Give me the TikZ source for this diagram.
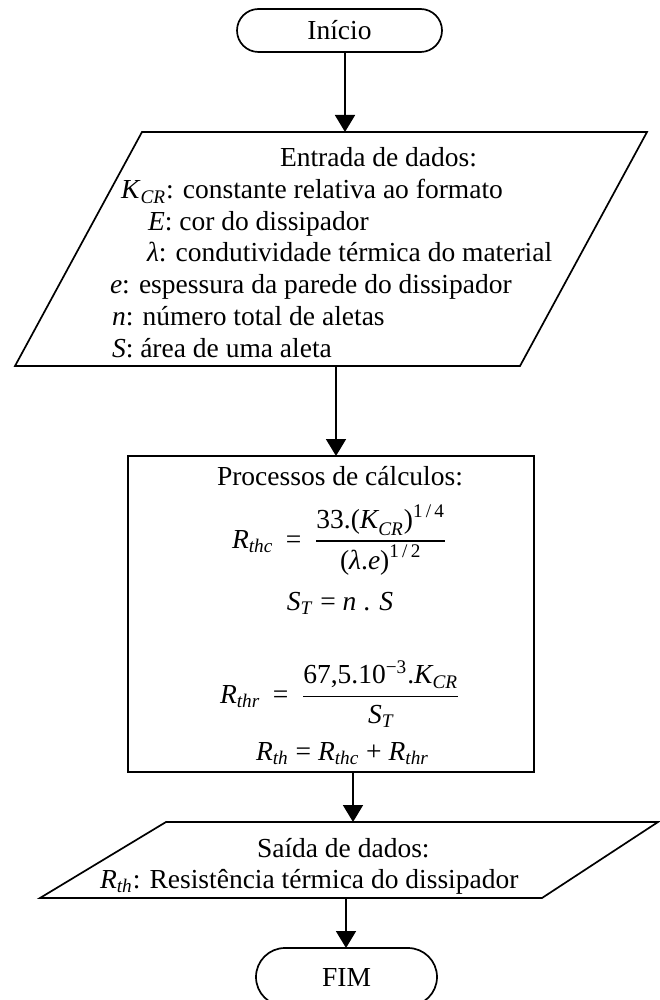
\documentclass[tikz,border=0pt]{standalone}
\usepackage{amsmath}
\usepackage{fontspec}
\setmainfont{Liberation Serif}
\usetikzlibrary{arrows.meta}
\begin{document}
\begin{tikzpicture}[x=0.5pt,y=-0.5pt, line width=0.85pt,
  txt/.style={inner sep=0pt, outer sep=0pt, font=\fontsize{13.75pt}{15.85pt}\selectfont},
  arr/.style={-{Triangle[length=8.5pt,width=10pt]}},
  ghost/.style={draw=none, inner sep=0pt, outer sep=0pt},
  term/.style={draw, txt, inner sep=0pt, outer sep=0pt}]
\useasboundingbox (0,0) rectangle (659,1000);

% terminals
\node[term, rounded corners=10.75pt, minimum width=102.5pt, minimum height=21.5pt] (ini) at (339.5,30.5) {Início};
\node[term, rounded corners=14.5pt, minimum width=90.5pt, minimum height=29pt] (fim) at (346.5,977) {FIM};

% input parallelogram
\draw (15,366) -- (142,132) -- (647,132) -- (520,366) -- cycle;
\node[ghost, minimum width=316pt, minimum height=117pt] (par1) at (331,249) {};
\node[txt, anchor=base west] (t1) at (280,167) {Entrada de dados:};
\node[txt, anchor=base west] (t2) at (121,198.7) {\textit{K}\textsubscript{\textit{CR}}: constante relativa ao formato};
\node[txt, anchor=base west] (t3) at (148,230.4) {\textit{E}: cor do dissipador};
\node[txt, anchor=base west] (t4) at (147,262) {\textit{λ}: condutividade térmica do material};
\node[txt, anchor=base west] (t5) at (110,293.8) {\textit{e}: espessura da parede do dissipador};
\node[txt, anchor=base west] (t6) at (112,325.5) {\textit{n}: número total de aletas};
\node[txt, anchor=base west] (t7) at (112,357.2) {\textit{S}: área de uma aleta};

% process box
\node[draw, minimum width=203pt, minimum height=158pt, inner sep=0pt, outer sep=0pt] (box) at (331,614) {};
\node[txt, anchor=base] (p1) at (340,485) {Processos de cálculos:};
\node[txt, anchor=west] (eq1) at (232,540) {$\displaystyle \text{\itshape R}_{\text{\itshape thc}} \mathrel{\text{\,=\,}} \frac{\text{33.(\itshape K}_{\text{\itshape CR}}\text{)}^{\text{1\,/\,4}}}{\text{(\itshape λ\upshape.\itshape e\/\upshape)}^{\text{1\,/\,2}}}$};
\node[txt, anchor=base] (eq2) at (340,610) {\textit{S}\textsubscript{\textit{T}} = \textit{n} . \textit{S}};
\node[txt, anchor=west] (eq3) at (220,694) {$\displaystyle \text{\itshape R}_{\text{\itshape thr}} \mathrel{\text{\,=\,}} \frac{\text{67,5.10}^{\text{−3}}\text{.\itshape K}_{\text{\itshape CR}}}{\text{\itshape S}_{\text{\itshape T}}}$};
\node[txt, anchor=base west] (eq4) at (256,760) {\textit{R}\textsubscript{\textit{th}} = \textit{R}\textsubscript{\textit{thc}} + \textit{R}\textsubscript{\textit{thr}}};

% output parallelogram
\draw (40,898) -- (166,822) -- (658,822) -- (542,898) -- cycle;
\node[ghost, minimum width=309pt, minimum height=38pt] (par2) at (349,860) {};
\node[txt, anchor=base west] (s1) at (257,857) {Saída de dados:};
\node[txt, anchor=base west] (s2) at (100,888) {\textit{R}\textsubscript{\textit{th}}: Resistência térmica do dissipador};

% connectors
\coordinate (c1) at (345,0);
\coordinate (c2) at (336,0);
\coordinate (c3) at (353,0);
\coordinate (c4) at (346,0);
\draw[arr] (ini.south -| c1) -- (par1.north -| c1);
\draw[arr] (par1.south -| c2) -- (box.north -| c2);
\draw[arr] (box.south -| c3) -- (par2.north -| c3);
\draw[arr] (par2.south -| c4) -- (fim.north -| c4);
\end{tikzpicture}
\end{document}
